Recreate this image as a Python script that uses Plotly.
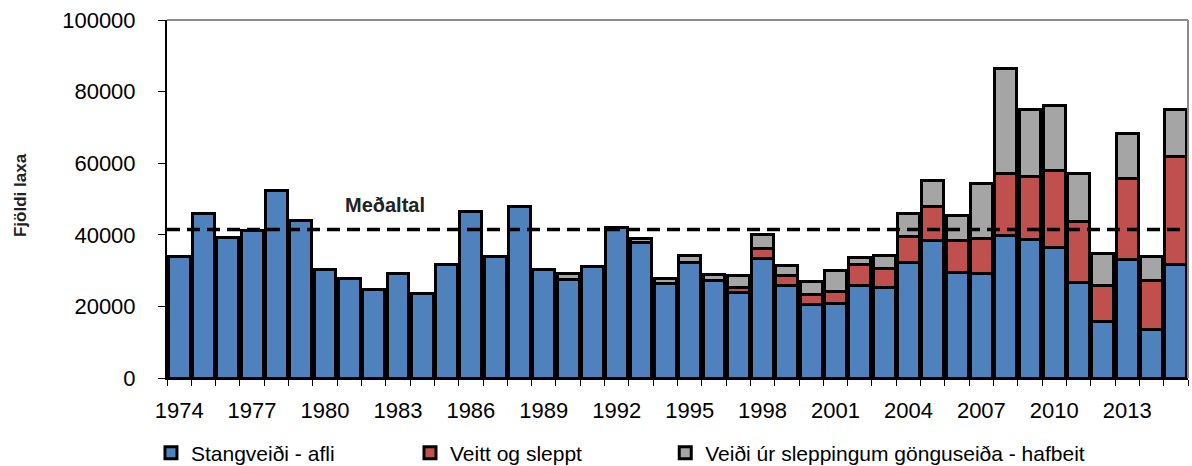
import plotly.graph_objects as go

years = list(range(1974, 2016))

# Stangveiði - afli
afli = [34000, 46000, 39200, 41300, 52500, 43900, 30200, 27700, 24600, 29200,
        23500, 31600, 46500, 33900, 47900, 30200, 27400, 31100, 42000, 37800,
        26300, 32300, 27200, 23900, 33400, 25700, 20400, 20900, 25700, 25200,
        32200, 38400, 29500, 29100, 39700, 38700, 36500, 26600, 15700, 33000,
        13600, 31600]

# Veitt og sleppt
sleppt = [0] * 23 + [1400, 2800, 2800, 2800, 3200, 6100, 5400, 7300, 9500,
                     9000, 9900, 17300, 17700, 21400, 17100, 10100, 22800,
                     13600, 30400]

# Veiði úr sleppingum gönguseiða - hafbeit
hafbeit = [0] * 16 + [1800, 0, 0, 1100, 1500, 1900, 1800, 3200, 3900, 2900,
                      3700, 5800, 1800, 3600, 6500, 7200, 6800, 15200, 29500,
                      18700, 18100, 13300, 9000, 12400, 6700, 12900]

medaltal = 41500
tick_years = list(range(1974, 2014, 3))

FONT = "Liberation Sans, Arial, sans-serif"

series = [
    ("Stangveiði - afli", afli, "#4F81BD", "legend", -0.0157),
    ("Veitt og sleppt", sleppt, "#C0504D", "legend2", 0.238),
    ("Veiði úr sleppingum gönguseiða - hafbeit", hafbeit, "#A5A5A5", "legend3", 0.488),
]

fig = go.Figure()
for name, vals, col, leg, _ in series:
    fig.add_trace(go.Bar(
        x=years, y=vals, name=name, legend=leg,
        marker=dict(color=col, line=dict(color="black", width=3)),
    ))

fig.add_shape(type="line", xref="x domain", yref="y", x0=0.0, x1=1.0,
              y0=medaltal, y1=medaltal,
              line=dict(color="black", width=3.5, dash="13px,7px"))
fig.add_annotation(x=1982.47, y=medaltal, yshift=24, text="<b>Meðaltal</b>",
                   showarrow=False, yanchor="middle",
                   font=dict(size=20, color="#222"))
fig.add_annotation(xref="paper", yref="paper", x=-0.144, y=0.511,
                   text="<b>Fjöldi laxa</b>", textangle=-90, showarrow=False,
                   xanchor="center", yanchor="middle",
                   font=dict(size=17, color="#222"))

legends = {}
for _, _, _, leg, lx in series:
    legends[leg] = dict(orientation="h", x=lx, y=-0.2095, yanchor="middle",
                        xanchor="left", font=dict(size=21), itemwidth=30,
                        bgcolor="rgba(0,0,0,0)")

fig.update_layout(
    barmode="stack", bargap=0.1,
    width=1192, height=466,
    margin=dict(l=167, r=4, t=20, b=88, autoexpand=False),
    plot_bgcolor="white", paper_bgcolor="white",
    font=dict(family=FONT, size=22, color="black"),
    showlegend=True,
    **legends,
)
fig.update_xaxes(
    range=[1973.5, 2015.5], tickvals=tick_years,
    ticks="outside", ticklen=12, tickcolor="rgba(0,0,0,0)",
    showline=True, linecolor="black", linewidth=2,
    minor=dict(tickvals=[y - 0.5 for y in years] + [2015.5], ticks="outside",
               ticklen=6, tickcolor="black", tickwidth=1),
    showgrid=False, tickfont=dict(size=22),
)
fig.update_yaxes(
    range=[0, 100000], dtick=20000, tickformat="d",
    ticks="outside", ticklen=7, tickcolor="black", ticklabelstandoff=18,
    showline=True, linecolor="black", linewidth=2,
    showgrid=False, tickfont=dict(size=22),
)
# plot-area frame (top and right, grey)
fig.add_shape(type="line", xref="paper", yref="paper", x0=0, x1=1, y0=1, y1=1,
              line=dict(color="#8C8C8C", width=2))
fig.add_shape(type="line", xref="paper", yref="paper", x0=1, x1=1, y0=0, y1=1,
              line=dict(color="#8C8C8C", width=2))

fig.write_html("out.html", config={"displayModeBar": False},
               post_script="document.body.style.margin = '0';")
